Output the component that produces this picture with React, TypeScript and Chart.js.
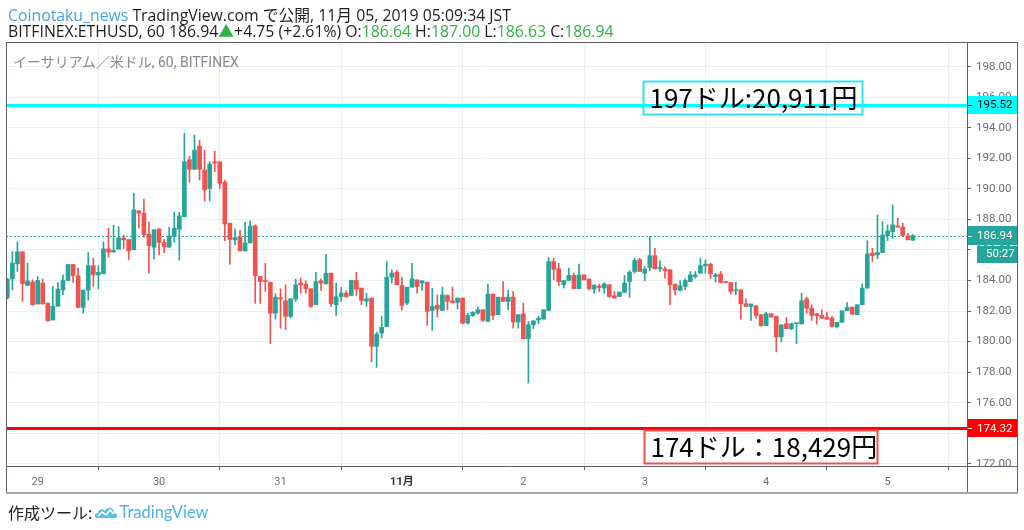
import React, { useEffect, useRef } from 'react';
import { Chart, registerables } from 'chart.js';

Chart.register(...registerables);

// ETHUSD 60-minute candles, 28th 18:00 → 5th 05:00 (JST)
const opens = [
  182.85, 184.11, 185.09, 185.88, 183.68, 183.90, 182.46, 183.83, 182.52, 181.41,
  182.31, 183.39, 184.00, 185.05, 184.31, 182.24, 183.37, 184.96, 184.37, 184.44,
  186.07, 185.86, 186.05, 186.79, 186.68, 186.01, 188.56, 188.41, 187.03, 186.18,
  187.38, 186.49, 186.18, 186.88, 187.36, 188.18, 191.91, 191.28, 192.80, 191.23,
  190.03, 191.78, 191.78, 190.43, 187.75, 186.66, 186.85, 185.94, 186.46, 187.57,
  184.26, 184.00, 183.89, 181.86, 182.87, 182.67, 181.65, 182.78, 183.83, 183.76,
  183.46, 182.41, 183.98, 183.78, 184.48, 182.41, 182.95, 183.17, 183.02, 184.00,
  183.50, 182.65, 182.85, 179.69, 180.56, 180.99, 184.22, 184.54, 183.67, 182.52,
  183.56, 184.04, 183.83, 183.89, 182.04, 182.37, 182.04, 183.02, 182.67, 182.56,
  182.85, 181.21, 181.71, 181.86, 182.08, 181.32, 183.11, 181.76, 182.91, 182.63,
  182.91, 181.28, 181.82, 180.19, 181.10, 181.41, 181.47, 182.04, 185.24, 184.76,
  183.72, 184.00, 184.33, 183.46, 184.37, 184.09, 183.43, 183.63, 183.50, 183.72,
  183.00, 182.95, 183.22, 183.93, 184.59, 185.37, 184.48, 184.85, 185.63, 184.76,
  184.76, 184.70, 183.76, 183.35, 183.61, 183.93, 184.26, 184.48, 184.96, 185.07,
  184.26, 184.41, 183.93, 183.87, 183.33, 183.39, 182.48, 182.30, 182.34, 181.76,
  181.04, 181.82, 181.65, 180.30, 181.17, 180.84, 181.17, 181.15, 182.80, 182.19,
  181.82, 181.71, 181.60, 181.54, 180.95, 181.26, 182.02, 182.26, 181.76, 182.41,
  183.50, 185.79, 185.68, 185.83, 186.94, 187.20, 187.57, 187.49, 186.92, 186.64,
];
const highs = [
  184.15, 185.90, 186.53, 185.88, 185.14, 184.05, 184.27, 184.09, 182.52, 183.61,
  183.87, 184.37, 185.05, 185.05, 184.81, 183.37, 185.83, 185.46, 184.98, 186.53,
  187.42, 187.62, 187.53, 186.97, 186.68, 189.71, 188.56, 189.32, 187.84, 187.32,
  187.38, 186.70, 187.49, 188.47, 188.47, 193.65, 192.13, 193.52, 193.19, 192.54,
  191.78, 192.47, 191.78, 190.58, 187.75, 187.38, 187.29, 187.81, 187.90, 187.64,
  184.26, 185.13, 183.89, 183.13, 183.46, 183.72, 182.80, 184.09, 184.15, 183.98,
  183.46, 184.54, 184.11, 185.72, 184.48, 183.83, 183.54, 183.33, 184.00, 184.54,
  183.50, 183.17, 182.85, 180.62, 181.65, 185.24, 184.70, 184.65, 184.22, 183.56,
  185.13, 184.04, 183.98, 183.89, 183.50, 183.06, 183.56, 183.06, 183.56, 182.85,
  182.85, 181.86, 181.97, 182.26, 182.08, 183.76, 183.11, 182.91, 183.93, 183.35,
  183.28, 181.76, 182.52, 181.32, 181.36, 181.65, 182.08, 185.50, 185.46, 185.13,
  184.00, 184.81, 184.48, 185.07, 184.37, 184.09, 183.70, 183.76, 183.85, 183.72,
  183.28, 183.24, 184.33, 184.65, 185.46, 185.46, 184.91, 186.88, 186.11, 185.28,
  184.91, 184.70, 183.76, 184.00, 184.11, 184.59, 184.59, 185.46, 185.35, 185.13,
  184.48, 184.59, 183.93, 183.87, 183.89, 183.39, 182.80, 182.46, 182.34, 181.76,
  181.91, 181.82, 181.65, 181.10, 181.58, 181.21, 181.21, 183.17, 182.91, 182.41,
  181.86, 182.08, 181.93, 181.65, 181.26, 182.02, 182.56, 182.26, 182.41, 183.78,
  186.61, 186.11, 188.29, 187.86, 187.64, 188.95, 188.07, 187.75, 187.09, 187.00,
];
const lows = [
  182.80, 183.39, 184.59, 182.63, 183.68, 182.37, 182.46, 182.46, 181.32, 181.41,
  182.31, 183.07, 184.00, 183.87, 182.20, 181.87, 182.70, 183.61, 183.46, 184.44,
  185.53, 185.86, 186.05, 186.10, 185.36, 186.01, 187.42, 186.84, 184.48, 185.40,
  185.68, 185.83, 186.18, 186.51, 185.33, 188.18, 190.43, 191.28, 190.58, 189.21,
  189.21, 191.12, 190.03, 186.61, 185.07, 186.33, 185.94, 185.94, 186.46, 182.50,
  182.50, 183.28, 179.86, 181.47, 180.88, 180.78, 181.54, 182.63, 183.17, 183.17,
  182.24, 182.41, 183.35, 183.78, 182.30, 181.71, 182.63, 182.89, 183.02, 183.02,
  182.41, 182.30, 178.66, 178.31, 180.23, 180.99, 183.83, 183.72, 182.06, 182.41,
  183.56, 183.17, 183.35, 181.06, 180.73, 181.60, 182.04, 182.08, 182.52, 182.13,
  181.15, 181.15, 181.65, 181.80, 181.32, 181.32, 181.43, 181.76, 182.63, 182.08,
  180.88, 180.88, 180.19, 177.29, 180.84, 181.17, 181.47, 182.04, 184.04, 183.65,
  183.50, 184.00, 183.46, 183.46, 184.04, 183.39, 183.17, 183.28, 183.17, 182.89,
  182.85, 182.95, 183.22, 182.89, 184.48, 184.59, 183.98, 184.63, 184.76, 184.59,
  184.15, 182.41, 183.06, 183.35, 183.39, 183.93, 184.15, 184.48, 184.48, 184.11,
  183.89, 183.83, 183.83, 183.11, 183.06, 181.47, 182.30, 181.39, 181.54, 181.00,
  181.04, 181.60, 179.32, 179.97, 180.84, 180.78, 179.86, 181.15, 181.86, 181.39,
  181.15, 181.50, 181.43, 180.95, 180.95, 181.26, 182.02, 181.76, 181.76, 182.41,
  183.50, 185.24, 185.42, 185.83, 186.61, 186.77, 187.49, 186.88, 186.66, 186.63,
];
const closes = [
  184.09, 185.14, 185.88, 183.79, 183.98, 182.41, 184.00, 182.46, 181.37, 182.31,
  183.44, 184.00, 185.05, 184.33, 182.24, 183.37, 184.98, 184.37, 184.53, 186.07,
  185.86, 185.97, 186.79, 186.66, 185.94, 188.62, 188.41, 186.99, 186.29, 187.32,
  186.49, 186.20, 186.92, 187.42, 188.23, 191.78, 191.28, 192.54, 191.28, 189.93,
  191.63, 191.69, 190.36, 187.70, 186.68, 186.81, 185.94, 186.46, 187.57, 184.31,
  183.93, 183.93, 181.86, 182.91, 182.78, 181.65, 182.80, 183.72, 183.72, 183.46,
  182.30, 183.93, 183.83, 184.48, 182.48, 182.93, 183.17, 182.95, 184.00, 183.43,
  182.69, 182.80, 179.69, 180.49, 180.93, 184.22, 184.48, 183.72, 182.37, 183.56,
  184.11, 183.61, 183.98, 181.97, 182.30, 182.13, 183.06, 182.63, 182.56, 182.85,
  181.21, 181.71, 181.91, 182.08, 181.39, 183.11, 181.71, 182.91, 182.63, 182.91,
  181.28, 181.76, 180.19, 181.10, 181.36, 181.54, 182.08, 185.24, 184.74, 183.93,
  184.00, 184.33, 183.46, 184.37, 184.04, 183.46, 183.70, 183.54, 183.78, 182.95,
  182.85, 183.24, 183.83, 184.54, 185.31, 184.59, 184.76, 185.63, 184.76, 184.85,
  184.65, 183.72, 183.39, 183.65, 184.00, 184.37, 184.37, 184.98, 185.07, 184.44,
  184.37, 183.87, 183.87, 183.28, 183.39, 182.48, 182.30, 182.46, 181.71, 181.04,
  181.82, 181.60, 180.30, 181.10, 180.84, 181.17, 181.21, 182.67, 182.19, 181.71,
  181.69, 181.54, 181.47, 180.99, 181.26, 182.02, 182.24, 181.80, 182.41, 183.50,
  185.74, 185.63, 185.83, 186.98, 187.25, 187.64, 187.49, 186.94, 186.66, 186.94,
];

const dayTickIndex = [6, 30, 54, 78, 102, 126, 150, 174];
const dayTickLabels = ['29', '30', '31', '11月', '2', '3', '4', '5'];
const monthTickIndex = 78;
const priceTicks = [172, 174, 176, 178, 180, 182, 184, 186, 188, 190, 192, 194, 196, 198];

const resistanceLevel = 195.52;
const supportLevel = 174.32;
const lastPrice = 186.94;
const countdownText = '50:27';
const resistanceNote = '197ドル:20,911円';
const supportNote = '174ドル：18,429円';

const UP = '#26a69a';
const DOWN = '#ef5350';
const GRID = '#e9eef4';
const FRAME = '#5d606b';
const AXIS_TEXT = '#6a6d78';
const FONT = 'Roboto, "Noto Sans CJK JP", sans-serif';

const tvDecor = {
  id: 'tvDecor',
  beforeDatasetsDraw(chart: any) {
    const { ctx, chartArea: a, scales } = chart;
    const py = Math.round(scales.y.getPixelForValue(lastPrice)) + 0.5;
    ctx.save();
    ctx.strokeStyle = UP;
    ctx.lineWidth = 1;
    ctx.setLineDash([2, 2]);
    ctx.beginPath();
    ctx.moveTo(a.left, py);
    ctx.lineTo(a.right, py);
    ctx.stroke();
    ctx.restore();
  },
  afterDatasetsDraw(chart: any) {
    const { ctx, chartArea: a, scales } = chart;
    const { x, y } = scales;
    ctx.save();
    ctx.beginPath();
    ctx.rect(a.left, a.top, a.right - a.left, a.bottom - a.top);
    ctx.clip();
    const level = (v: number, color: string) => {
      const py = Math.round(y.getPixelForValue(v)) + 0.5;
      ctx.strokeStyle = color;
      ctx.lineWidth = 3;
      ctx.beginPath();
      ctx.moveTo(a.left, py);
      ctx.lineTo(a.right, py);
      ctx.stroke();
    };
    level(resistanceLevel, '#00ffff');
    level(supportLevel, '#ff0000');
    const note = (i0: number, i1: number, pTop: number, pBot: number, color: string, text: string) => {
      const x0 = Math.round(x.getPixelForValue(i0)) + 0.5;
      const x1 = Math.round(x.getPixelForValue(i1)) + 0.5;
      const y0 = Math.round(y.getPixelForValue(pTop)) + 0.5;
      const y1 = Math.round(y.getPixelForValue(pBot)) + 0.5;
      ctx.strokeStyle = color;
      ctx.lineWidth = 2;
      ctx.strokeRect(x0, y0, x1 - x0, y1 - y0);
      ctx.fillStyle = '#000';
      ctx.font = '26px "Noto Sans CJK JP", sans-serif';
      ctx.textAlign = 'left';
      ctx.textBaseline = 'middle';
      ctx.fillText(text, x0 + 6, (y0 + y1) / 2);
    };
    note(125.7, 169.0, 197.06, 194.9, '#2ee6f2', resistanceNote);
    note(125.9, 172.0, 174.21, 172.03, '#f2504f', supportNote);
    ctx.restore();
  },
  afterDraw(chart: any) {
    const { ctx, chartArea: a, scales } = chart;
    const { y } = scales;
    const W = chart.width;
    const right = W - 7;
    const bottom = a.bottom + 27;
    ctx.save();
    ctx.strokeStyle = FRAME;
    ctx.lineWidth = 1;
    ctx.beginPath();
    ctx.moveTo(a.left + 0.5, a.top);
    ctx.lineTo(a.left + 0.5, bottom);
    ctx.moveTo(a.left, a.top + 0.5);
    ctx.lineTo(right, a.top + 0.5);
    ctx.moveTo(a.right + 0.5, a.top);
    ctx.lineTo(a.right + 0.5, bottom);
    ctx.moveTo(right + 0.5, a.top);
    ctx.lineTo(right + 0.5, bottom);
    ctx.moveTo(a.left, a.bottom + 0.5);
    ctx.lineTo(right, a.bottom + 0.5);
    ctx.stroke();
    ctx.strokeStyle = '#a3a6ad';
    ctx.lineWidth = 2;
    ctx.beginPath();
    ctx.moveTo(a.left, bottom);
    ctx.lineTo(right + 1, bottom);
    ctx.stroke();

    const tag = (x0: number, x1: number, yc: number, h: number, bg: string, fg: string, text: string, tick: boolean) => {
      ctx.fillStyle = bg;
      ctx.fillRect(x0, Math.round(yc - h / 2), x1 - x0, h);
      if (tick) {
        ctx.strokeStyle = fg;
        ctx.lineWidth = 1;
        ctx.beginPath();
        ctx.moveTo(x0, Math.round(yc) + 0.5);
        ctx.lineTo(x0 + 4, Math.round(yc) + 0.5);
        ctx.stroke();
      }
      ctx.fillStyle = fg;
      ctx.font = `11.5px ${FONT}`;
      ctx.textAlign = 'left';
      ctx.textBaseline = 'middle';
      ctx.fillText(text, x0 + 9, yc + 0.5);
    };
    const rY = y.getPixelForValue(resistanceLevel);
    const sY = y.getPixelForValue(supportLevel);
    const lY = y.getPixelForValue(lastPrice);
    tag(a.right + 1, right, rY, 18, '#00ffff', '#000', resistanceLevel.toFixed(2), true);
    tag(a.right + 1, right, sY, 18, '#ff0000', '#fff', supportLevel.toFixed(2), true);
    tag(a.right + 1, right, lY, 19, UP, '#fff', lastPrice.toFixed(2), true);
    tag(a.right + 10, right, lY + 18.5, 17, UP, '#fff', countdownText, false);
    ctx.restore();
  },
};

export default function App() {
  const ref = useRef<HTMLCanvasElement | null>(null);

  useEffect(() => {
    if (!ref.current) return;
    const idx = opens.map((_, i) => i);
    const wickData = idx.map((i) => ({ x: i, y: [lows[i], highs[i]] }));
    const bodyData = idx.map((i) => ({ x: i, y: [Math.min(opens[i], closes[i]), Math.max(opens[i], closes[i])] }));
    const colors = idx.map((i) => (closes[i] >= opens[i] ? UP : DOWN));

    const chart = new Chart(ref.current, {
      type: 'bar',
      data: {
        datasets: [
          {
            label: 'wick',
            data: wickData as any,
            backgroundColor: colors,
            barThickness: 1,
            grouped: false,
            borderWidth: 0,
          },
          {
            label: 'body',
            data: bodyData as any,
            backgroundColor: colors,
            barThickness: 4,
            grouped: false,
            borderWidth: 0,
            minBarLength: 1,
          },
        ],
      },
      options: {
        responsive: false,
        animation: false,
        devicePixelRatio: 1,
        layout: { padding: { left: 6, top: 42, right: 7, bottom: 37 } },
        plugins: { legend: { display: false }, tooltip: { enabled: false } },
        events: [],
        scales: {
          x: {
            type: 'linear',
            min: -0.26,
            max: 189.7,
            offset: false,
            afterBuildTicks: (s: any) => {
              s.ticks = dayTickIndex.map((v) => ({ value: v }));
            },
            afterFit: (s: any) => {
              s.height = 27;
            },
            ticks: {
              autoSkip: false,
              maxRotation: 0,
              padding: 6,
              callback: (v: any) => {
                const k = dayTickIndex.indexOf(Number(v));
                return k >= 0 ? dayTickLabels[k] : '';
              },
              color: (c: any) => (c.tick && c.tick.value === monthTickIndex ? '#333' : AXIS_TEXT),
              font: (c: any) => ({
                family: FONT,
                size: 11,
                weight: c.tick && c.tick.value === monthTickIndex ? 'bold' : 'normal',
              }),
            },
            grid: { color: GRID, tickColor: FRAME, tickLength: 4 },
            border: { display: false },
          },
          y: {
            type: 'linear',
            position: 'right',
            min: 171.85,
            max: 199.62,
            afterBuildTicks: (s: any) => {
              s.ticks = priceTicks.map((v) => ({ value: v }));
            },
            afterFit: (s: any) => {
              s.width = 50;
            },
            ticks: {
              padding: 5,
              color: AXIS_TEXT,
              font: { family: FONT, size: 11.5 },
              callback: (v: any) => Number(v).toFixed(2),
            },
            grid: { color: GRID, tickColor: FRAME, tickLength: 4 },
            border: { display: false },
          },
        },
      } as any,
      plugins: [tvDecor],
    });
    return () => chart.destroy();
  }, []);

  const last = opens.length - 1;
  const green = '#2fb344';
  const headerFont = '15.8px "Open Sans", "Noto Sans CJK JP", sans-serif';

  return (
    <div style={{ position: 'fixed', left: 0, top: 0, width: 1024, height: 530, background: '#fff', overflow: 'hidden' }}>
      <canvas ref={ref} width={1024} height={530} style={{ position: 'absolute', left: 0, top: 0, width: 1024, height: 530 }} />
      <div style={{ position: 'absolute', left: 8, top: 7, font: headerFont, color: '#1e1e1e', whiteSpace: 'nowrap', lineHeight: '16px' }}>
        <div>
          <span style={{ color: '#45a5dc' }}>Coinotaku_news</span> TradingView.com で公開, 11月 05, 2019 05:09:34 JST
        </div>
        <div>
          BITFINEX:ETHUSD, 60 {closes[last].toFixed(2)}
          <span style={{ color: green }}>▲</span>+4.75 (+2.61%) O:<span style={{ color: green }}>{opens[last].toFixed(2)}</span> H:
          <span style={{ color: green }}>{highs[last].toFixed(2)}</span> L:<span style={{ color: green }}>{lows[last].toFixed(2)}</span> C:
          <span style={{ color: green }}>{closes[last].toFixed(2)}</span>
        </div>
      </div>
      <div style={{ position: 'absolute', left: 13, top: 51, font: `14px ${FONT}`, color: '#868993', whiteSpace: 'nowrap' }}>
        イーサリアム／米ドル, 60, BITFINEX
      </div>
      <div style={{ position: 'absolute', left: 8, top: 500, display: 'flex', alignItems: 'center', whiteSpace: 'nowrap' }}>
        <span style={{ font: '16px "Noto Sans CJK JP", sans-serif', color: '#222' }}>作成ツール:</span>
        <svg width="24" height="16" viewBox="0 0 24 16" style={{ marginLeft: 2, marginRight: 1 }}>
          <path d="M3 14 C0 14 0 9 4 9 C4 5 9 4 11 7 C13 2 20 3 20 9 C24 9 24 14 21 14 Z" fill="#5bc0eb" />
          <polyline points="4,12 8,8 12,11 16,6 20,10" fill="none" stroke="#fff" strokeWidth="1.6" />
        </svg>
        <span style={{ font: '16.5px Lato, "Open Sans", sans-serif', color: '#4bb3e6' }}>TradingView</span>
      </div>
    </div>
  );
}
